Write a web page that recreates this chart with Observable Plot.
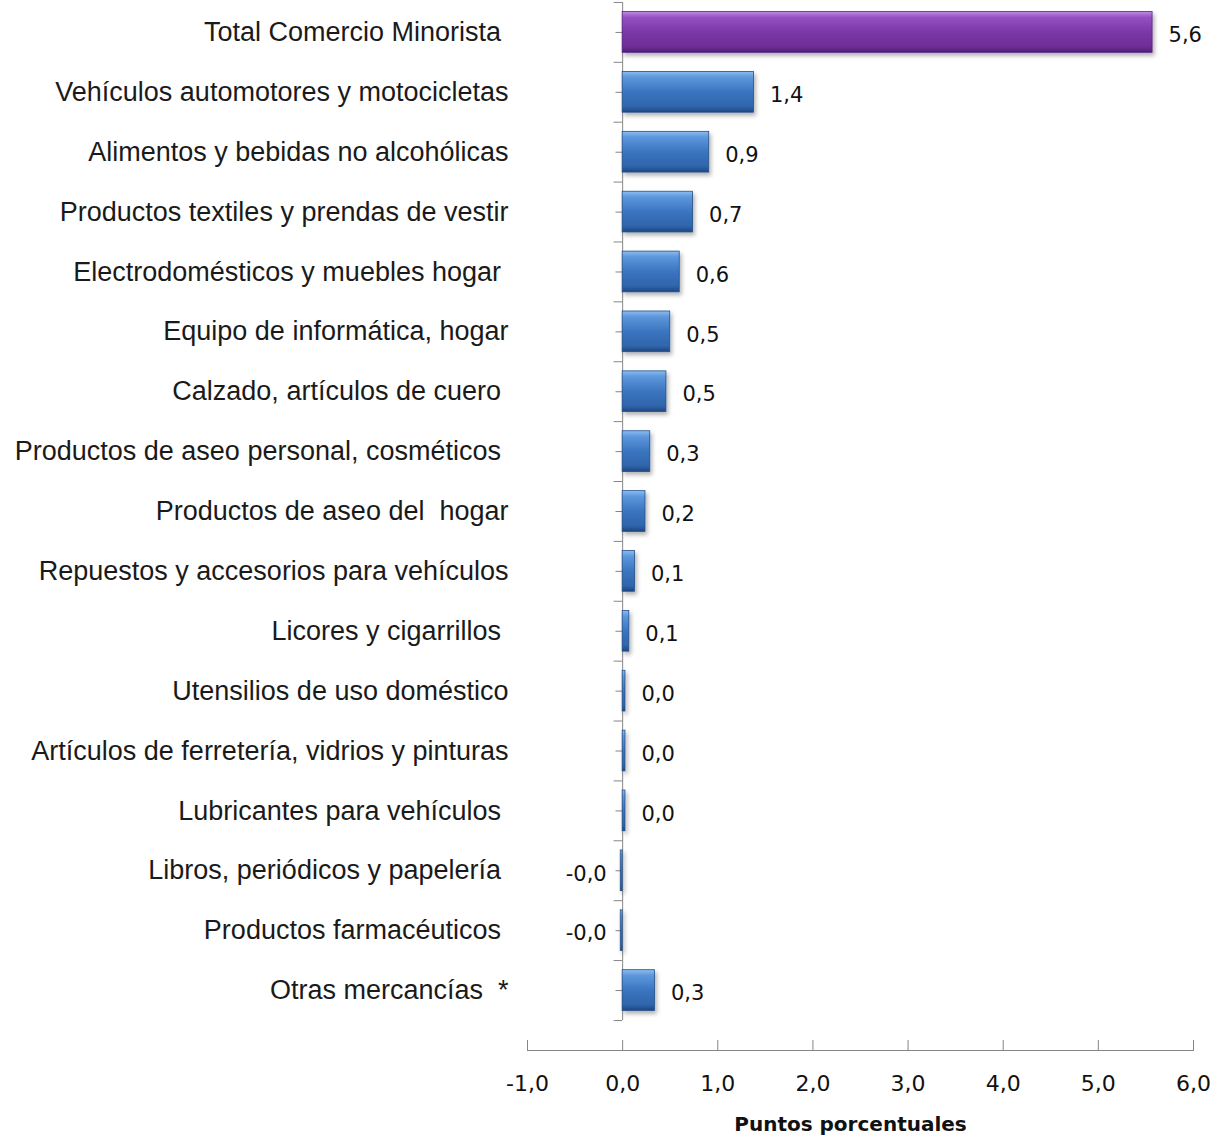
<!DOCTYPE html>
<html><head><meta charset="utf-8">
<script src="https://cdn.jsdelivr.net/npm/d3@7"></script>
<script src="https://cdn.jsdelivr.net/npm/@observablehq/plot@0.6"></script>
<style>
body{margin:0;background:#fff}
svg{white-space:pre}
</style>
</head><body><div id="chart"></div>
<script>
const categories = [
  "Total Comercio Minorista ",
  "Vehículos automotores y motocicletas",
  "Alimentos y bebidas no alcohólicas",
  "Productos textiles y prendas de vestir",
  "Electrodomésticos y muebles hogar ",
  "Equipo de informática, hogar",
  "Calzado, artículos de cuero ",
  "Productos de aseo personal, cosméticos ",
  "Productos de aseo del  hogar",
  "Repuestos y accesorios para vehículos",
  "Licores y cigarrillos ",
  "Utensilios de uso doméstico",
  "Artículos de ferretería, vidrios y pinturas",
  "Lubricantes para vehículos ",
  "Libros, periódicos y papelería ",
  "Productos farmacéuticos ",
  "Otras mercancías  *"
];
const values = [5.57, 1.38, 0.91, 0.74, 0.60, 0.50, 0.46, 0.29, 0.24, 0.13, 0.07, 0.03, 0.03, 0.03, -0.02, -0.02, 0.34];
const xTicks = [-1, 0, 1, 2, 3, 4, 5, 6];
const xLabel = "Puntos porcentuales";

const data = categories.map((c, i) => ({cat: c, value: values[i], total: i === 0}));
const fmt = v => v.toFixed(1).replace(".", ",");

const chart = Plot.plot({
  width: 1218, height: 1137,
  marginLeft: 527, marginRight: 25, marginTop: 2, marginBottom: 87,
  style: {fontFamily: "DejaVu Sans", fontSize: "17px", background: "#fff", color: "#111"},
  x: {domain: [-1, 6]},
  y: {domain: categories, range: [2, 1020], paddingInner: 0.32, paddingOuter: 0.16, round: false},
  marks: [
    Plot.frame({anchor: "bottom", stroke: "#868686"}),
    Plot.ruleX([0], {stroke: "#868686", insetBottom: 30}),
    Plot.ruleY(data, {y: "cat", x1: -0.07, x2: 0, stroke: "#868686"}),
    Plot.ruleY(data, {y: "cat", x1: -0.09, x2: 0, stroke: "#868686", dy: -30}),
    Plot.ruleY(data.slice(-1), {y: "cat", x1: -0.09, x2: 0, stroke: "#868686", dy: 30}),
    Plot.ruleX(xTicks, {stroke: "#868686", insetTop: 1038}),
    Plot.barX(data.filter(d => !d.total), {x: "value", y: "cat", fill: "url(#gBlue)", stroke: "#24508a", strokeWidth: 0.8}),
    Plot.barX(data.filter(d => d.total), {x: "value", y: "cat", fill: "url(#gPurple)", stroke: "#5a2486", strokeWidth: 0.8}),
    Plot.text(data.filter(d => d.value >= 0), {x: "value", y: "cat", text: d => fmt(d.value), textAnchor: "start", dx: 16, dy: 3, fontSize: 21, fill: "#111"}),
    Plot.text(data.filter(d => d.value < 0), {x: "value", y: "cat", text: d => fmt(d.value), textAnchor: "end", dx: -14, dy: 3, fontSize: 21, fill: "#111"}),
    Plot.axisY({tickSize: 0, tickPadding: 19, fontSize: 27, label: null, fontFamily: "Liberation Sans", fill: "#1a1a1a"}),
    Plot.axisX({ticks: xTicks, tickFormat: fmt, tickSize: 0, tickPadding: 25, fontSize: 22, label: null}),
    Plot.text([xLabel], {frameAnchor: "bottom", dy: 80, dx: -10, fontWeight: "bold", fontSize: 20, fill: "#111"})
  ]
});

chart.insertAdjacentHTML("afterbegin", `<defs>
<linearGradient id="gBlue" x1="0" y1="0" x2="0" y2="1">
<stop offset="0" stop-color="#8cbdf0"/>
<stop offset="0.14" stop-color="#5d97dc"/>
<stop offset="0.5" stop-color="#3b75c0"/>
<stop offset="0.86" stop-color="#2f65ab"/>
<stop offset="1" stop-color="#1d4680"/>
</linearGradient>
<linearGradient id="gPurple" x1="0" y1="0" x2="0" y2="1">
<stop offset="0" stop-color="#c18ae6"/>
<stop offset="0.14" stop-color="#9550c2"/>
<stop offset="0.5" stop-color="#7a37a6"/>
<stop offset="0.86" stop-color="#6e2f98"/>
<stop offset="1" stop-color="#4e1c73"/>
</linearGradient>
<filter id="shadow" x="-10%" y="-10%" width="130%" height="140%">
<feDropShadow dx="2" dy="3" stdDeviation="2" flood-color="#000" flood-opacity="0.3"/>
</filter>
</defs>`);
chart.querySelectorAll('g[aria-label="bar"]').forEach(g => g.setAttribute("filter", "url(#shadow)"));
document.getElementById("chart").appendChild(chart);
</script>
</body></html>
